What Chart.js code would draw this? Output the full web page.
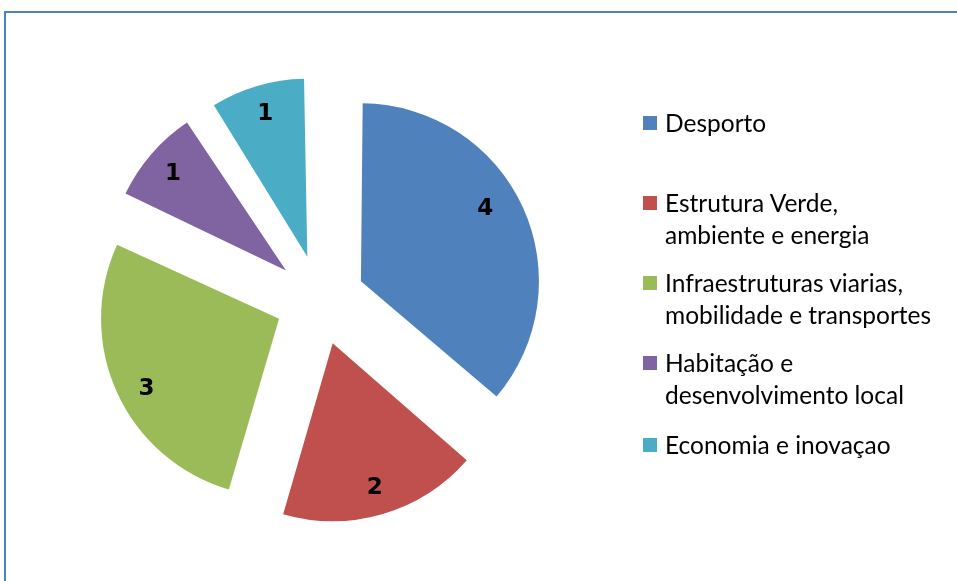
<!DOCTYPE html>
<html>
<head>
<meta charset="utf-8">
<script src="https://cdn.jsdelivr.net/npm/chart.js@4/dist/chart.umd.min.js"></script>
<style>
  html, body { margin: 0; padding: 0; background: #fff; }
  #wrap { position: relative; width: 957px; height: 581px; overflow: hidden; }
  #moldura { position: absolute; left: 4px; top: 11px; width: 1000px; height: 1000px; border: 2px solid #4f81bd; }
  #grafico { position: absolute; left: 0; top: 0; }
  #legenda { position: absolute; left: 643px; top: 0; font-family: Lato, sans-serif; font-size: 24.5px; color: #000; }
  .item { position: absolute; left: 0; width: 310px; line-height: 32px; padding-left: 22px; white-space: nowrap; }
  .item i { position: absolute; left: 0; top: 9px; width: 14px; height: 14px; }
</style>
</head>
<body>
<div id="wrap">
  <div id="moldura"></div>
  <canvas id="grafico" width="957" height="581"></canvas>
  <div id="legenda"></div>
</div>
<script>
// Dados
const categorias = ['Desporto', 'Estrutura Verde, ambiente e energia', 'Infraestruturas viarias, mobilidade e transportes', 'Habitação e desenvolvimento local', 'Economia e inovaçao'];
const linhasLegenda = [['Desporto'], ['Estrutura Verde,', 'ambiente e energia'], ['Infraestruturas viarias,', 'mobilidade e transportes'], ['Habitação e', 'desenvolvimento local'], ['Economia e inovaçao']];
const valores = [4, 2, 3, 1, 1];
const cores = ['#4f81bd', '#c0504d', '#9bbb59', '#8064a2', '#4bacc6'];

const RAIO = 178;
const AFASTAMENTO = 180; // o Chart.js desloca offset/4 px

// legenda em html
const legenda = document.getElementById('legenda');
const topos = [107, 187, 267, 347, 429];
linhasLegenda.forEach((linhas, i) => {
  const d = document.createElement('div');
  d.className = 'item';
  d.style.top = topos[i] + 'px';
  d.innerHTML = `<i style="background:${cores[i]}"></i>` + linhas.join('<br>');
  legenda.appendChild(d);
});

// o arco cresce com o offset; repor o raio igual em todas as fatias
const corrigeRaio = {
  id: 'corrigeRaio',
  afterDatasetsUpdate(chart) {
    chart.getDatasetMeta(0).data.forEach(arc => {
      const circ = arc.endAngle - arc.startAngle;
      const fix = 1 - Math.sin(Math.min(Math.PI, circ));
      arc.outerRadius = RAIO - (AFASTAMENTO / 4) * fix;
    });
  }
};

// valores dentro das fatias (ajuste de ângulo nas fatias grandes)
const ajusteAngulo = [-0.08, 0, -0.04, 0, 0];
const rotulos = {
  id: 'rotulos',
  afterDatasetsDraw(chart) {
    const ctx = chart.ctx;
    const meta = chart.getDatasetMeta(0);
    ctx.save();
    ctx.font = 'bold 23px "DejaVu Sans", sans-serif';
    ctx.fillStyle = '#000';
    ctx.textAlign = 'center';
    ctx.textBaseline = 'middle';
    meta.data.forEach((arc, i) => {
      const meio = (arc.startAngle + arc.endAngle) / 2 + ajusteAngulo[i];
      const dist = AFASTAMENTO / 4 + RAIO * (i === 0 ? 0.81 : 0.84);
      ctx.fillText(valores[i], arc.x + Math.cos(meio) * dist, arc.y + Math.sin(meio) * dist + 1);
    });
    ctx.restore();
  }
};

new Chart(document.getElementById('grafico'), {
  type: 'pie',
  data: {
    labels: categorias,
    datasets: [{
      data: valores,
      backgroundColor: cores,
      borderWidth: 0,
      offset: AFASTAMENTO,
      hoverOffset: AFASTAMENTO,
      radius: RAIO
    }]
  },
  options: {
    responsive: false,
    animation: false,
    events: [],
    layout: { padding: { left: 0, right: 317, top: 19, bottom: 0 } },
    plugins: { legend: { display: false }, tooltip: { enabled: false } }
  },
  plugins: [corrigeRaio, rotulos]
});
</script>
</body>
</html>
